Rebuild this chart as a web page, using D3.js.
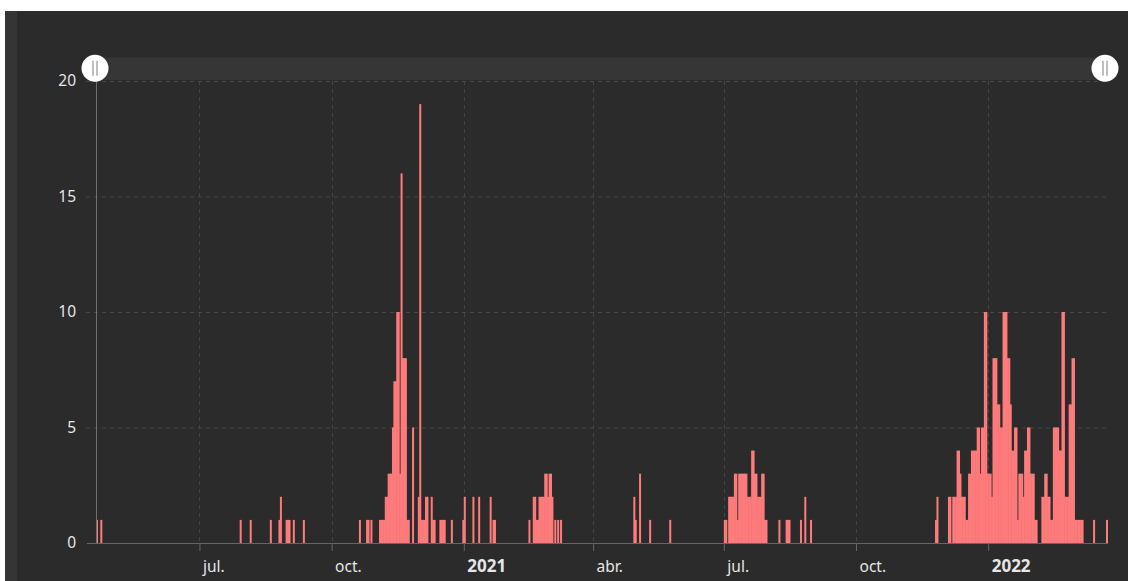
<!DOCTYPE html>
<html>
<head>
<meta charset="utf-8">
<script src="https://cdn.jsdelivr.net/npm/d3@7"></script>
<style>
html, body { margin: 0; padding: 0; background: #fff; }
svg { display: block; }
</style>
</head>
<body>
<div id="chart"></div>
<script>
// days with cases (every other day in the range is 0)
const dates = [
    "2020-04-20", "2020-04-23",
    "2020-07-29", "2020-08-05", "2020-08-19", "2020-08-25", "2020-08-26", "2020-08-30", "2020-08-31",
    "2020-09-01", "2020-09-04", "2020-09-11",
    "2020-10-20", "2020-10-25", "2020-10-26", "2020-10-28",
    "2020-11-03", "2020-11-04", "2020-11-05", "2020-11-06", "2020-11-07", "2020-11-08", "2020-11-09",
    "2020-11-10", "2020-11-11", "2020-11-12", "2020-11-13", "2020-11-14", "2020-11-15", "2020-11-16",
    "2020-11-17", "2020-11-18", "2020-11-19", "2020-11-20", "2020-11-21", "2020-11-22", "2020-11-23",
    "2020-11-26", "2020-11-30",
    "2020-12-01", "2020-12-02", "2020-12-03", "2020-12-04", "2020-12-05", "2020-12-06", "2020-12-09",
    "2020-12-10", "2020-12-11", "2020-12-15", "2020-12-16", "2020-12-17", "2020-12-18", "2020-12-23",
    "2020-12-31",
    "2021-01-01", "2021-01-07", "2021-01-11", "2021-01-19", "2021-01-21", "2021-01-22",
    "2021-02-15", "2021-02-18", "2021-02-19", "2021-02-20", "2021-02-21", "2021-02-22", "2021-02-23",
    "2021-02-24", "2021-02-25", "2021-02-26", "2021-02-27", "2021-02-28",
    "2021-03-01", "2021-03-02", "2021-03-03", "2021-03-05", "2021-03-07", "2021-03-09",
    "2021-04-29", "2021-04-30", "2021-05-03", "2021-05-10", "2021-05-24",
    "2021-07-01", "2021-07-02", "2021-07-04", "2021-07-05", "2021-07-06", "2021-07-07", "2021-07-08",
    "2021-07-09", "2021-07-10", "2021-07-11", "2021-07-12", "2021-07-13", "2021-07-14", "2021-07-15",
    "2021-07-16", "2021-07-17", "2021-07-18", "2021-07-19", "2021-07-20", "2021-07-21", "2021-07-22",
    "2021-07-23", "2021-07-24", "2021-07-25", "2021-07-26", "2021-07-27", "2021-07-28", "2021-07-29",
    "2021-07-30",
    "2021-08-08", "2021-08-13", "2021-08-14", "2021-08-15", "2021-08-23", "2021-08-26", "2021-08-30",
    "2021-11-25", "2021-11-26",
    "2021-12-04", "2021-12-05", "2021-12-07", "2021-12-08", "2021-12-09", "2021-12-10", "2021-12-11",
    "2021-12-12", "2021-12-13", "2021-12-14", "2021-12-15", "2021-12-16", "2021-12-17", "2021-12-18",
    "2021-12-19", "2021-12-20", "2021-12-21", "2021-12-22", "2021-12-23", "2021-12-24", "2021-12-25",
    "2021-12-26", "2021-12-27", "2021-12-28", "2021-12-29", "2021-12-30", "2021-12-31",
    "2022-01-01", "2022-01-02", "2022-01-03", "2022-01-04", "2022-01-05", "2022-01-06", "2022-01-07",
    "2022-01-08", "2022-01-09", "2022-01-10", "2022-01-11", "2022-01-12", "2022-01-13", "2022-01-14",
    "2022-01-15", "2022-01-16", "2022-01-17", "2022-01-18", "2022-01-19", "2022-01-20", "2022-01-21",
    "2022-01-22", "2022-01-23", "2022-01-24", "2022-01-25", "2022-01-26", "2022-01-27", "2022-01-28",
    "2022-01-29", "2022-01-30", "2022-01-31",
    "2022-02-01", "2022-02-02", "2022-02-03", "2022-02-07", "2022-02-08", "2022-02-09", "2022-02-10",
    "2022-02-11", "2022-02-12", "2022-02-13", "2022-02-14", "2022-02-15", "2022-02-16", "2022-02-17",
    "2022-02-18", "2022-02-19", "2022-02-20", "2022-02-21", "2022-02-22", "2022-02-23", "2022-02-24",
    "2022-02-25", "2022-02-26", "2022-02-27", "2022-02-28",
    "2022-03-01", "2022-03-02", "2022-03-03", "2022-03-04", "2022-03-05", "2022-03-06", "2022-03-07",
    "2022-03-15", "2022-03-24"
];
const counts = [
    1, 1,
    1, 1, 1, 1, 2, 1, 1,
    1, 1, 1,
    1, 1, 1, 1,
    1, 1, 1, 1, 2, 2, 3,
    3, 3, 5, 7, 7, 10, 10,
    3, 16, 8, 8, 8, 1, 1,
    5, 2,
    19, 1, 1, 1, 2, 2, 2,
    1, 1, 1, 1, 1, 1, 1,
    1,
    2, 2, 2, 2, 1, 1,
    1, 2, 2, 1, 1, 2, 2,
    2, 2, 3, 3, 2,
    3, 3, 2, 1, 1, 1,
    2, 1, 3, 1, 1,
    1, 1, 2, 2, 2, 2, 3,
    3, 1, 3, 3, 3, 3, 3,
    3, 2, 2, 2, 4, 4, 3,
    3, 2, 2, 2, 3, 3, 1,
    1,
    1, 1, 1, 1, 1, 2, 1,
    1, 2,
    2, 2, 2, 2, 2, 4, 4,
    3, 2, 2, 2, 1, 1, 3,
    3, 4, 4, 4, 4, 5, 5,
    3, 5, 5, 10, 10, 3,
    3, 3, 2, 8, 8, 8, 6,
    6, 5, 5, 10, 10, 10, 8,
    8, 6, 4, 4, 5, 5, 1,
    3, 3, 3, 2, 4, 4, 5,
    5, 3, 3,
    3, 1, 1, 2, 2, 3, 3,
    2, 2, 1, 1, 5, 5, 5,
    5, 4, 4, 10, 10, 2, 2,
    2, 6, 6, 8,
    8, 1, 1, 1, 1, 1, 1,
    1, 1
];

const yTicks = [0, 5, 10, 15, 20];
const xTickDates = ["2020-07-01", "2020-10-01", "2021-01-01", "2021-04-01", "2021-07-01", "2021-10-01", "2022-01-01"];
const xTickLabels = ["jul.", "oct.", "2021", "abr.", "jul.", "oct.", "2022"];
const dateRange = ["2020-04-20", "2022-03-24"];

const parse = d3.utcParse("%Y-%m-%d");
const W = 1128, H = 581;
const plotLeft = 96, plotRight = 1106, plotTop = 81, plotBottom = 543;
const FONT = "'Noto Sans', 'Open Sans', sans-serif";

const svg = d3.select("#chart").append("svg")
    .attr("width", W)
    .attr("height", H);

// panel background + left strip
svg.append("rect").attr("x", 5).attr("y", 11).attr("width", 12).attr("height", H - 11).attr("fill", "#353535");
svg.append("rect").attr("x", 17).attr("y", 11).attr("width", W - 17).attr("height", H - 11).attr("fill", "#2b2b2b");

const x = d3.scaleUtc()
    .domain(dateRange.map(parse))
    .range([plotLeft, plotRight]);

const y = d3.scaleLinear()
    .domain([0, 20])
    .range([plotBottom, plotTop]);

// zoom slider track
svg.append("rect")
    .attr("x", plotLeft).attr("y", 57.5)
    .attr("width", plotRight - plotLeft).attr("height", 22.5)
    .attr("fill", "#363636");

// horizontal grid
svg.append("g")
    .selectAll("line")
    .data(yTicks.filter(d => d > 0))
    .enter().append("line")
    .attr("x1", 86).attr("x2", plotRight)
    .attr("y1", d => y(d) + 0.5).attr("y2", d => y(d) + 0.5)
    .attr("stroke", "#474747")
    .attr("stroke-dasharray", "4,4");

// vertical grid
svg.append("g")
    .selectAll("line")
    .data(xTickDates.map(parse))
    .enter().append("line")
    .attr("x1", d => Math.round(x(d)) + 0.5).attr("x2", d => Math.round(x(d)) + 0.5)
    .attr("y1", plotTop).attr("y2", plotBottom)
    .attr("stroke", "#444")
    .attr("stroke-dasharray", "4,4");

// bars
const data = dates.map((d, i) => ({ date: parse(d), value: counts[i] }));
svg.append("g")
    .selectAll("rect")
    .data(data)
    .enter().append("rect")
    .attr("x", d => x(d.date))
    .attr("y", d => y(d.value))
    .attr("width", 2)
    .attr("height", d => plotBottom - y(d.value))
    .attr("fill", "#ff7b7b");

// x axis
const xAxis = svg.append("g")
    .attr("transform", `translate(0, ${plotBottom})`)
    .call(d3.axisBottom(x)
        .tickValues(xTickDates.map(parse))
        .tickFormat((d, i) => xTickLabels[i])
        .tickSize(8)
        .tickSizeOuter(0));
xAxis.select(".domain").remove();
xAxis.selectAll(".tick line").attr("stroke", "#666");
xAxis.selectAll(".tick text")
    .attr("text-anchor", "start")
    .attr("x", 3)
    .attr("y", 28.5)
    .attr("dy", null)
    .attr("fill", "#e6e6e6")
    .style("font-family", FONT)
    .style("font-size", (d, i) => /^\d+$/.test(xTickLabels[i]) ? "17px" : "15.5px")
    .style("font-weight", (d, i) => /^\d+$/.test(xTickLabels[i]) ? "bold" : "normal");
svg.append("line")
    .attr("x1", 87).attr("x2", 1108)
    .attr("y1", plotBottom + 0.5).attr("y2", plotBottom + 0.5)
    .attr("stroke", "#666");

// y axis
const yAxis = svg.append("g")
    .attr("transform", `translate(${plotLeft}, 0)`)
    .call(d3.axisLeft(y).tickValues(yTicks).tickSize(0).tickPadding(20));
yAxis.select(".domain").remove();
yAxis.selectAll(".tick text")
    .attr("fill", "#e6e6e6")
    .style("font-family", FONT)
    .style("font-size", "15.5px");
svg.append("line")
    .attr("x1", plotLeft + 0.5).attr("x2", plotLeft + 0.5)
    .attr("y1", plotTop).attr("y2", plotBottom)
    .attr("stroke", "#6e6e6e");

// slider handles
[plotLeft - 1, plotRight - 1].forEach(cx => {
    const h = svg.append("g").attr("transform", `translate(${cx}, 68.3)`);
    h.append("circle").attr("r", 13.5).attr("fill", "#fff");
    [-2, 2].forEach(dx => {
        h.append("line")
            .attr("x1", dx).attr("x2", dx)
            .attr("y1", -7.5).attr("y2", 7.5)
            .attr("stroke", "#aaa")
            .attr("stroke-width", 1.5);
    });
});
</script>
</body>
</html>
